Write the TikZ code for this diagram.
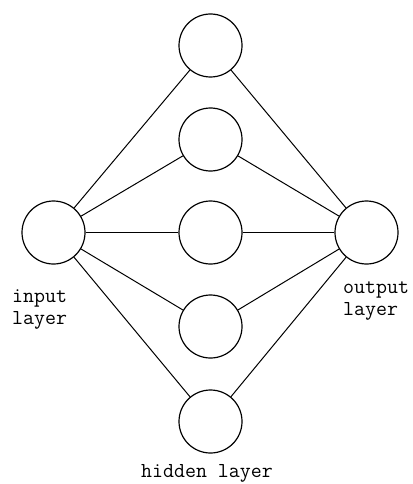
\documentclass[tikz,border=0pt]{standalone}
\usepackage{fontspec}
\begin{document}
\begin{tikzpicture}[x=1pt,y=-1pt,
  neuron/.style={circle,draw=black,line width=1.2pt,minimum size=63pt,inner sep=0pt},
  link/.style={draw=black,line width=1pt},
  lbl/.style={font=\ttfamily\fontsize{21.3}{22}\selectfont,inner sep=0pt,align=left}]
\useasboundingbox (0,0) rectangle (412,484);
\node[neuron] (in) at (53.5,232.5) {};
\node[neuron] (h1) at (210.5,45.5) {};
\node[neuron] (h2) at (210.5,139.5) {};
\node[neuron] (h3) at (210.5,232.5) {};
\node[neuron] (h4) at (210.5,326.5) {};
\node[neuron] (h5) at (210.5,421.5) {};
\node[neuron] (out) at (366.5,232.5) {};
\foreach \h in {h1,h2,h3,h4,h5}{
  \draw[link] (in) -- (\h);
  \draw[link] (\h) -- (out);
}
\node[lbl,anchor=base west] (inl) at (12,324) {input\\layer};
\node[lbl,anchor=base west] (outl) at (343,315) {output\\layer};
\node[lbl,anchor=base] (hl) at (207,477) {hidden layer};
\end{tikzpicture}
\end{document}
